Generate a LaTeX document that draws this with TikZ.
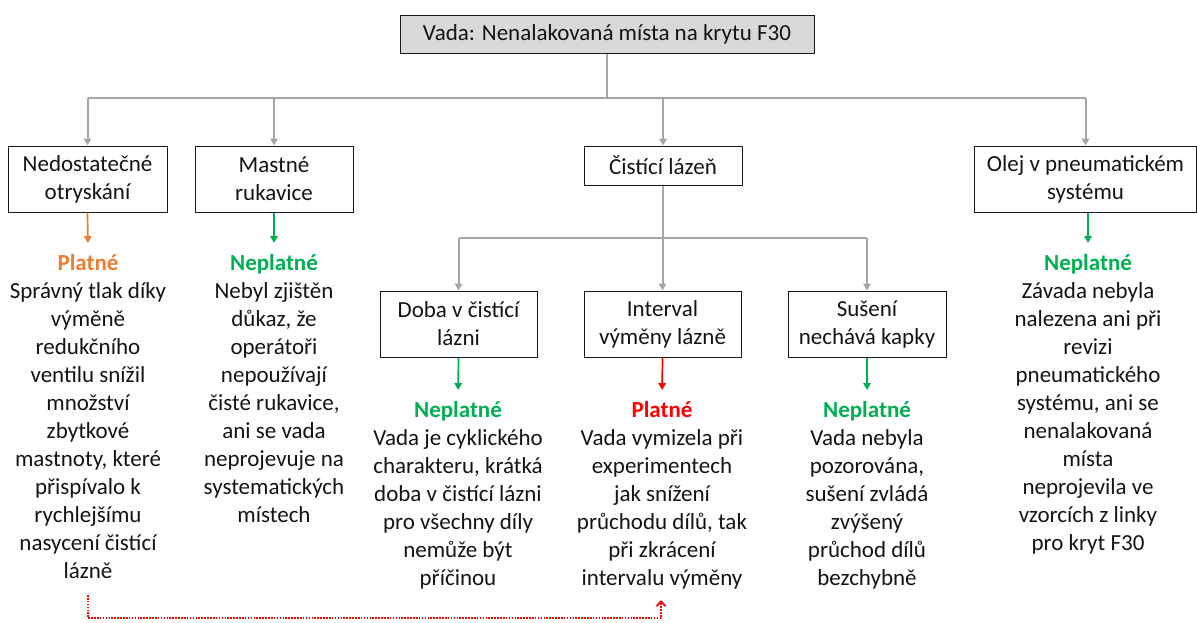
\documentclass[tikz,border=0pt]{standalone}
\usepackage{fontspec}
\setmainfont{Carlito}
\usetikzlibrary{arrows.meta}
\definecolor{treegray}{HTML}{A6A6A6}
\definecolor{boxfill}{HTML}{D9D9D9}
\definecolor{orng}{HTML}{ED7D31}
\definecolor{grn}{HTML}{00B050}
\definecolor{rd}{HTML}{FF0000}
\definecolor{txt}{HTML}{141414}
\newcommand{\valid}[1]{\textcolor{#1}{\textbf{Platné}}}
\newcommand{\invalid}{\textcolor{grn}{\textbf{Neplatné}}}
\begin{document}
\begin{tikzpicture}[x=1pt,y=-1pt,
  every node/.style={font=\fontsize{23}{28}\selectfont, text=txt},
  box/.style={draw=black!90, line width=1pt, align=center, inner sep=0pt, minimum height=66pt},
  tree/.style={draw=treegray, line width=2pt},
  treearrow/.style={tree, -{Triangle[length=7pt,width=7.5pt]}},
  result/.style={line width=1.7pt, -{Triangle[length=7pt,width=7.5pt]}, shorten >=11pt},
  verdict/.style={align=center, anchor=north, inner sep=0pt},
  dotline/.style={draw=rd, line width=1.7pt, dash pattern=on 1.6pt off 1.3pt,
    -{Straight Barb[length=5pt,width=9pt]}}
]
\useasboundingbox (0,0) rectangle (1197,622);

% root
\node[box, fill=boxfill, minimum width=414pt, minimum height=38pt] (top) at (607,34)
  {Vada: Nenalakovaná místa na krytu F30};

% first level causes
\node[box, minimum width=159pt] (n1) at (87.5,179) {Nedostatečné\\otryskání};
\node[box, minimum width=158pt] (n2) at (274,179) {Mastné\\rukavice};
\node[box, minimum width=158pt, minimum height=39pt] (n3) at (663,165.5) {Čistící lázeň};
\node[box, minimum width=222pt] (n4) at (1085.5,179) {Olej v pneumatickém\\systému};

% second level under the bath
\node[box, minimum width=157pt] (s1) at (458.5,324) {Doba v čistící\\lázni};
\node[box, minimum width=157pt] (s2) at (662.5,324) {Interval\\výměny lázně};
\node[box, minimum width=158pt] (s3) at (867,324) {Sušení\\nechává kapky};

% tree connectors
\coordinate (bar) at (607,98);
\coordinate (sbar) at (663,238);
\draw[tree] (top.south) -- (bar);
\draw[tree] (n1.north |- bar) -- (n4.north |- bar);
\foreach \n in {n1,n2,n3,n4} \draw[treearrow] (\n.north |- bar) -- (\n.north);
\draw[tree] (n3.south) -- (sbar);
\draw[tree] (s1.north |- sbar) -- (s3.north |- sbar);
\foreach \n in {s1,s2,s3} \draw[treearrow] (\n.north |- sbar) -- (\n.north);

% verdicts
\node[verdict] (v1) at (88,254) {\valid{orng}\\Správný tlak díky\\výměně\\redukčního\\ventilu snížil\\množství\\zbytkové\\mastnoty, které\\přispívalo k\\rychlejšímu\\nasycení čistící\\lázně};
\node[verdict] (v2) at (274,254) {\invalid\\Nebyl zjištěn\\důkaz, že\\operátoři\\nepoužívají\\čisté rukavice,\\ani se vada\\neprojevuje na\\systematických\\místech};
\node[verdict] (v4) at (1088,254) {\invalid\\Závada nebyla\\nalezena ani při\\revizi\\pneumatického\\systému, ani se\\nenalakovaná\\místa\\neprojevila ve\\vzorcích z linky\\pro kryt F30};
\node[verdict] (w1) at (458,401) {\invalid\\Vada je cyklického\\charakteru, krátká\\doba v čistící lázni\\pro všechny díly\\nemůže být\\příčinou};
\node[verdict] (w2) at (662,401) {\valid{rd}\\Vada vymizela při\\experimentech\\jak snížení\\průchodu dílů, tak\\při zkrácení\\intervalu výměny};
\node[verdict] (w3) at (867,401) {\invalid\\Vada nebyla\\pozorována,\\sušení zvládá\\zvýšený\\průchod dílů\\bezchybně};

\draw[result, orng] (n1.south) -- (v1.north);
\draw[result, grn] (n2.south) -- (v2.north);
\draw[result, grn] (n4.south -| v4.north) -- (v4.north);
\draw[result, grn] (s1.south) -- (w1.north);
\draw[result, rd] (s2.south) -- (w2.north);
\draw[result, grn] (s3.south) -- (w3.north);

% link from the blasting cause to the bath exchange interval
\coordinate (d1) at (88,595);
\coordinate (d2) at (661,600);
\draw[dotline] (d1) -- ++(0,23) -| (d2);
\end{tikzpicture}
\end{document}
